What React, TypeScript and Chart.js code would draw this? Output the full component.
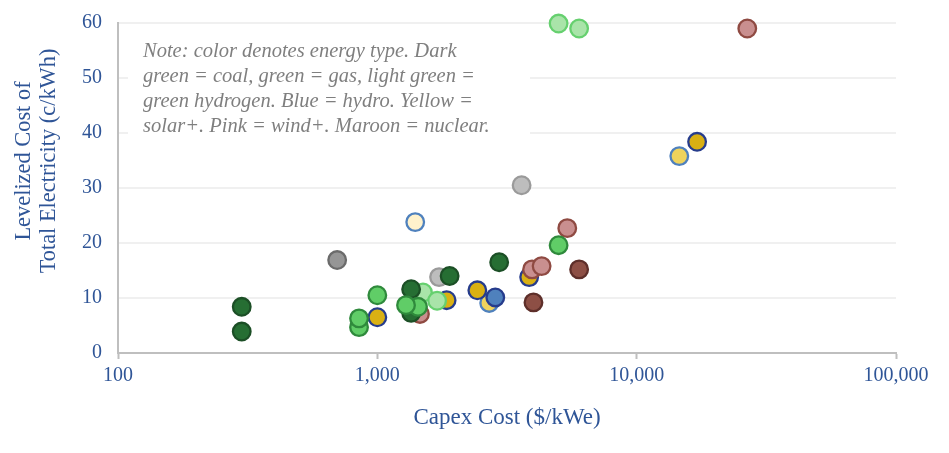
import { useEffect, useRef } from "react";
import { Chart, registerables } from "chart.js";

Chart.register(...registerables);

const FONT = "'Liberation Serif', serif";
const BLUE_TEXT = "#2f5597";

const xTickValues = [100, 1000, 10000, 100000];
const yTitleLines = ["Levelized Cost of", "Total Electricity (c/kWh)"];
const noteLines = [
  "Note: color denotes energy type. Dark",
  "green = coal, green = gas, light green =",
  "green hydrogen. Blue = hydro. Yellow =",
  "solar+. Pink = wind+. Maroon = nuclear.",
];

// x = capex $/kWe, y = c/kWh
const greyDark = [{ x: 700, y: 16.9 }];
const greyLight = [
  { x: 1730, y: 13.8 },
  { x: 3600, y: 30.5 },
];
const solarCream = [{ x: 1400, y: 23.8 }];
const solarLight = [
  { x: 14600, y: 35.8 },
  { x: 2700, y: 9.1 },
];
const hydro = [{ x: 2850, y: 10.1 }];
const solar = [
  { x: 1000, y: 6.5 },
  { x: 1850, y: 9.6 },
  { x: 2430, y: 11.4 },
  { x: 3850, y: 13.8 },
  { x: 17100, y: 38.4 },
];
const wind = [
  { x: 1460, y: 7.1 },
  { x: 3950, y: 15.2 },
  { x: 4300, y: 15.8 },
  { x: 5400, y: 22.7 },
  { x: 26700, y: 59 },
];
const nuclear = [
  { x: 4000, y: 9.2 },
  { x: 6000, y: 15.2 },
];
const hydrogen = [
  { x: 1500, y: 11 },
  { x: 1700, y: 9.5 },
  { x: 5000, y: 59.9 },
  { x: 6000, y: 59 },
];
const coal = [
  { x: 300, y: 8.4 },
  { x: 300, y: 3.9 },
  { x: 1350, y: 7.3 },
  { x: 1350, y: 11.6 },
  { x: 1900, y: 14 },
  { x: 2950, y: 16.5 },
];
const gas = [
  { x: 850, y: 4.7 },
  { x: 850, y: 6.3 },
  { x: 1000, y: 10.5 },
  { x: 1435, y: 8.4 },
  { x: 1290, y: 8.7 },
  { x: 5000, y: 19.6 },
];

const series = (label: string, data: { x: number; y: number }[], fill: string, border: string) => ({
  label,
  data,
  backgroundColor: fill,
  borderColor: border,
  borderWidth: 2.3,
  pointRadius: 8.8,
  showLine: false,
  clip: false,
});

// white box behind the note hides the gridlines, then the note goes on it
const notePlugin = {
  id: "note",
  beforeDatasetsDraw(chart: Chart) {
    const ctx = chart.ctx;
    ctx.save();
    ctx.fillStyle = "#ffffff";
    ctx.fillRect(128, 30, 402, 110);
    ctx.fillStyle = "#7f7f7f";
    ctx.font = `italic 20.5px ${FONT}`;
    ctx.textBaseline = "alphabetic";
    noteLines.forEach((line, i) => ctx.fillText(line, 143, 57 + i * 25));
    ctx.restore();
  },
  // y title sits above the axis middle in the reference, so it is placed by hand
  afterDraw(chart: Chart) {
    const ctx = chart.ctx;
    ctx.save();
    ctx.fillStyle = BLUE_TEXT;
    ctx.font = `22.4px ${FONT}`;
    ctx.textAlign = "center";
    ctx.textBaseline = "middle";
    yTitleLines.forEach((line, i) => {
      ctx.save();
      ctx.translate(24 + i * 25, 161);
      ctx.rotate(-Math.PI / 2);
      ctx.fillText(line, 0, 0);
      ctx.restore();
    });
    ctx.restore();
  },
};

export default function App() {
  const canvasRef = useRef<HTMLCanvasElement | null>(null);

  useEffect(() => {
    if (!canvasRef.current) return;

    const chart = new Chart(canvasRef.current, {
      type: "scatter",
      data: {
        // first dataset is painted last, so the top layer goes first
        datasets: [
          series("Gas", gas, "#60cd67", "#2f8a3c"),
          series("Coal", coal, "#266e33", "#1c4f26"),
          series("Green hydrogen", hydrogen, "#a9e4a9", "#66d06f"),
          series("Nuclear", nuclear, "#8d4f45", "#5e2f2a"),
          series("Wind+", wind, "#c98f8f", "#8f4a42"),
          series("Solar+", solar, "#d9b013", "#263c8c"),
          series("Hydro", hydro, "#4f81bd", "#263c8c"),
          series("Solar light", solarLight, "#efd35c", "#4f81bd"),
          series("Solar pale", solarCream, "#fff2cc", "#4f81bd"),
          series("Other light", greyLight, "#bdbdbd", "#9a9a9a"),
          series("Other", greyDark, "#969696", "#6b6b6b"),
        ],
      },
      options: {
        responsive: false,
        animation: false,
        layout: { padding: { top: 23, right: 53, left: 0, bottom: 0 } },
        plugins: { legend: { display: false }, tooltip: { enabled: false } },
        scales: {
          x: {
            type: "logarithmic",
            min: 100,
            max: 100000,
            afterBuildTicks: (scale: any) => {
              scale.ticks = xTickValues.map((value) => ({ value }));
            },
            afterFit: (scale: any) => {
              scale.height = 100;
              scale.paddingLeft = 0;
              scale.paddingRight = 0;
            },
            grid: {
              drawOnChartArea: false,
              color: "#bfbfbf",
              tickLength: 6,
              tickWidth: 2,
            },
            border: { color: "#bfbfbf", width: 2 },
            ticks: {
              color: BLUE_TEXT,
              font: { family: FONT, size: 20 },
              padding: 5,
              maxRotation: 0,
              autoSkip: false,
              callback: (v: any) => Number(v).toLocaleString("en-US"),
            },
            title: {
              display: true,
              text: "Capex Cost ($/kWe)",
              color: BLUE_TEXT,
              font: { family: FONT, size: 23 },
              padding: { top: 0, bottom: 21 },
            },
          },
          y: {
            min: 0,
            max: 60,
            afterFit: (scale: any) => {
              scale.width = 118;
              scale.paddingTop = 0;
              scale.paddingBottom = 0;
            },
            grid: { color: "#f0f0f0", lineWidth: 2, drawTicks: false },
            border: { color: "#bfbfbf", width: 2 },
            ticks: {
              stepSize: 10,
              color: BLUE_TEXT,
              font: { family: FONT, size: 20 },
              padding: 16,
            },
          },
        },
      },
      plugins: [notePlugin],
    });

    return () => {
      chart.destroy();
    };
  }, []);

  return (
    <div style={{ position: "absolute", left: 0, top: 0, width: 949, height: 453, background: "#ffffff" }}>
      <canvas ref={canvasRef} width={949} height={453} style={{ display: "block" }}></canvas>
    </div>
  );
}
